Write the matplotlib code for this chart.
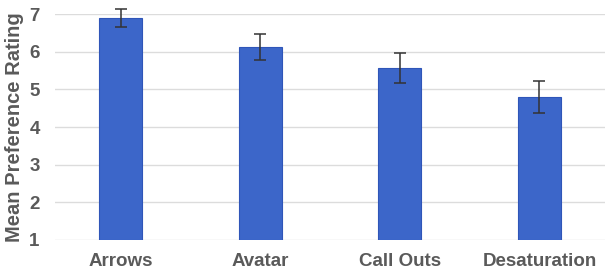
import matplotlib
matplotlib.use('Agg')
import matplotlib.pyplot as plt

categories = ['Arrows', 'Avatar', 'Call Outs', 'Desaturation']
means = [6.89, 6.13, 5.57, 4.80]
errors = [0.23, 0.35, 0.39, 0.43]

plt.rcParams['font.family'] = ['Liberation Sans', 'DejaVu Sans']

fig = plt.figure(figsize=(6.05, 2.71), dpi=100)
ax = fig.add_axes([55 / 605, 1 - 240 / 271, 1 - 55 / 605, (240 - 14) / 271])

x = list(range(len(categories)))
bottom = 1
ax.bar(x, [m - bottom for m in means], bottom=bottom, width=0.31,
       color='#3c66c9', edgecolor='#2f55b8', linewidth=0.8, zorder=2)
ax.errorbar(x, means, yerr=errors, fmt='none', ecolor='#333333',
            elinewidth=1.1, capsize=4, capthick=1.1, zorder=3, clip_on=False)

ax.set_xlim(-0.47, 3.47)
ax.set_ylim(1, 7)
ax.set_yticks(range(1, 8))
ax.yaxis.grid(True, color='#dcdcdc', linewidth=1, zorder=0)
ax.set_axisbelow(True)
for s in ax.spines.values():
    s.set_visible(False)
ax.tick_params(length=0, labelcolor='#5a5a5a', labelsize=13.5)
ax.tick_params(axis='x', pad=9)
ax.tick_params(axis='y', pad=11)
ax.set_xticks(x)
ax.set_xticklabels(categories, fontweight='bold')
for t in ax.get_yticklabels():
    t.set_fontweight('bold')
ax.set_ylabel('Mean Preference Rating', fontsize=14.5, fontweight='bold',
              color='#5a5a5a', labelpad=4)

fig.savefig('out.png', dpi=100)
